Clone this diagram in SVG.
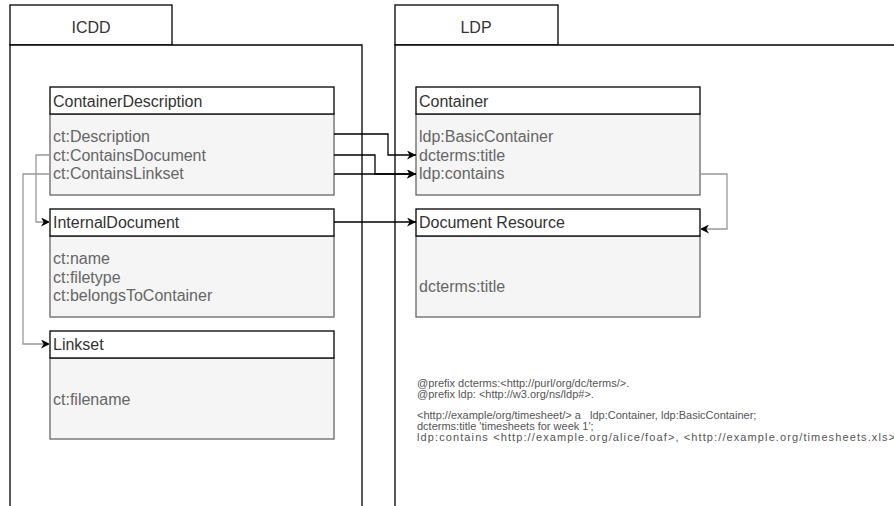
<svg xmlns="http://www.w3.org/2000/svg" width="894" height="506" viewBox="0 0 894 506">
<defs>
<marker id="arr" viewBox="0 0 10 10" refX="10" refY="5" markerWidth="9" markerHeight="9" markerUnits="userSpaceOnUse" orient="auto">
<path d="M0,0 L10,5 L0,10 L3,5 Z" fill="#000"/>
</marker>
<style>
.frame{fill:#fff;stroke:#000;stroke-width:1.3}
.hdr{fill:#fff;stroke:#000;stroke-width:1.3}
.body{fill:#f5f5f5;stroke:#666;stroke-width:1.3}
.t{font-family:"Liberation Sans",Arial,sans-serif;font-size:16px;fill:#333}
.b{font-family:"Liberation Sans",Arial,sans-serif;font-size:16px;fill:#666}
.c{font-family:"Liberation Sans",Arial,sans-serif;font-size:11px;fill:#555}
.blk{fill:none;stroke:#000;stroke-width:1.3;marker-end:url(#arr)}
.gry{fill:none;stroke:#999;stroke-width:1.3;marker-end:url(#arr)}
</style>
</defs>
<rect width="894" height="506" fill="#fff"/>
<g id="icdd">
<rect class="frame" x="10" y="5" width="162" height="40"/>
<path class="frame" d="M10,520 V45 H362 V520"/>
<text class="t" x="91" y="33" text-anchor="middle">ICDD</text>
</g>
<g id="ldp">
<rect class="frame" x="395" y="5" width="163" height="40"/>
<path class="frame" d="M395,520 V45 H900"/>
<text class="t" x="476" y="33" text-anchor="middle">LDP</text>
</g>
<g id="containerDescription">
<rect class="body" x="50" y="114" width="284" height="81"/>
<rect class="hdr" x="50" y="87" width="284" height="27"/>
<text class="t" x="53" y="107">ContainerDescription</text>
<text class="b" x="53" y="142">ct:Description</text>
<text class="b" x="53" y="161">ct:ContainsDocument</text>
<text class="b" x="53" y="179">ct:ContainsLinkset</text>
</g>
<g id="internalDocument">
<rect class="body" x="50" y="236" width="284" height="81"/>
<rect class="hdr" x="50" y="209" width="284" height="27"/>
<text class="t" x="53" y="228">InternalDocument</text>
<text class="b" x="53" y="264">ct:name</text>
<text class="b" x="53" y="283">ct:filetype</text>
<text class="b" x="53" y="301">ct:belongsToContainer</text>
</g>
<g id="linkset">
<rect class="body" x="50" y="358" width="284" height="81"/>
<rect class="hdr" x="50" y="331" width="284" height="27"/>
<text class="t" x="53" y="350">Linkset</text>
<text class="b" x="53" y="405">ct:filename</text>
</g>
<g id="container">
<rect class="body" x="416" y="114" width="284" height="81"/>
<rect class="hdr" x="416" y="87" width="284" height="27"/>
<text class="t" x="419" y="107">Container</text>
<text class="b" x="419" y="142">ldp:BasicContainer</text>
<text class="b" x="419" y="161">dcterms:title</text>
<text class="b" x="419" y="179">ldp:contains</text>
</g>
<g id="documentResource">
<rect class="body" x="416" y="236" width="284" height="81"/>
<rect class="hdr" x="416" y="209" width="284" height="27"/>
<text class="t" x="419" y="228">Document Resource</text>
<text class="b" x="419" y="292">dcterms:title</text>
</g>
<g id="turtle">
<text class="c" x="417" y="387">@prefix dcterms:&lt;http://purl/org/dc/terms/&gt;.</text>
<text class="c" x="417" y="398">@prefix ldp: &lt;http://w3.org/ns/ldp#&gt;.</text>
<text class="c" x="417" y="419" xml:space="preserve">&lt;http://example/org/timesheet/&gt; a   ldp:Container, ldp:BasicContainer;</text>
<text class="c" x="417" y="430">dcterms:title 'timesheets for week 1';</text>
<text class="c" x="417" y="441" textLength="478" lengthAdjust="spacing">ldp:contains &lt;http://example.org/alice/foaf&gt;, &lt;http://example.org/timesheets.xls&gt;</text>
</g>
<g id="connectors">
<path class="blk" d="M334,134 H388 V155 H416"/>
<path class="blk" d="M334,155 H375 V174 H416"/>
<path class="blk" d="M334,174 H416"/>
<path class="blk" d="M334,222 H416"/>
<path class="gry" d="M700,174 H727 V229 H700"/>
<path class="gry" d="M50,155 H36 V222 H50"/>
<path class="gry" d="M50,174 H23 V344 H50"/>
</g>
</svg>
